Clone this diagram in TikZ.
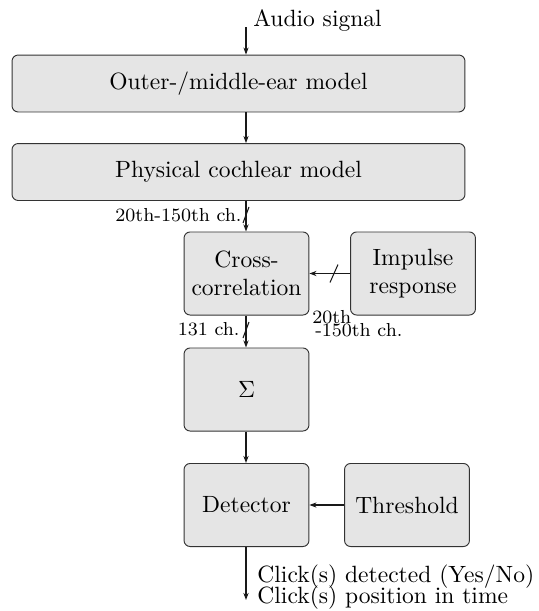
\documentclass[tikz,border=0pt]{standalone}
\usetikzlibrary{arrows.meta,calc}
\begin{document}
\begin{tikzpicture}[x=0.425pt,y=-0.425pt,
  blk/.style={draw=black!80,fill=black!10,rounded corners=2.6pt,align=center,inner sep=0pt,font=\normalsize},
  wide/.style={blk,minimum width=192.5pt,minimum height=24.2pt},
  small/.style={blk,minimum width=53.1pt,minimum height=35.3pt},
  arr/.style={-{Stealth[length=3pt,width=2.2pt]},black!90,line width=0.45pt},
  lbl/.style={font=\footnotesize,inner sep=0pt},
  slash/.style={black!90,line width=0.45pt}]
\useasboundingbox (0,0) rectangle (539,611);
\node[wide] (outer) at (238.5,83.5) {Outer-/middle-ear model};
\node[wide] (coch) at (238.5,172) {Physical cochlear model};
\node[small] (xc) at (246.5,273.5) {Cross-\\correlation};
\node[small] (imp) at (413,273.5) {Impulse\\response};
\node[small] (sum) at (246.5,389.5) {$\Sigma$};
\node[small] (det) at (246.5,505) {Detector};
\node[small] (thr) at (407,505) {Threshold};
\coordinate (col) at (246,0);
\coordinate (in) at (246,27);
\coordinate (out) at (246,600);
\node[anchor=west,inner sep=0pt] (audio) at (253,20) {Audio signal};
\draw[arr] (in) -- (in |- outer.north);
\draw[arr] (col |- outer.south) -- (col |- coch.north);
\draw[arr] (col |- coch.south) -- (col |- xc.north);
\draw[arr] (col |- xc.south) -- (col |- sum.north);
\draw[arr] (col |- sum.south) -- (col |- det.north);
\draw[arr] (imp.west) -- (xc.east);
\draw[arr] (thr.west) -- (det.east);
\draw[arr] (col |- det.south) -- (out);
\coordinate (s1) at (246,215);
\coordinate (s2) at (246,330);
\coordinate (s3) at (334,273.5);
\draw[slash] ($(s1)+(-3,8)$) -- ($(s1)+(3,-8)$);
\draw[slash] ($(s2)+(-3,8)$) -- ($(s2)+(3,-8)$);
\draw[slash] ($(s3)+(-4,9)$) -- ($(s3)+(4,-9)$);
\node[lbl,anchor=east] (l1) at (242,215) {20th-150th ch.};
\node[lbl,anchor=east] (l2) at (240,329) {131 ch.};
\node[lbl,anchor=north west,align=left] (l3) at (312,310) {20th\\[-4pt]\hspace{1.2pt}-150th ch.};
\node[anchor=west,inner sep=0pt,align=left] (res) at (257,587) {Click(s) detected (Yes/No)\\[-2.8pt]Click(s) position in time};
\end{tikzpicture}
\end{document}
